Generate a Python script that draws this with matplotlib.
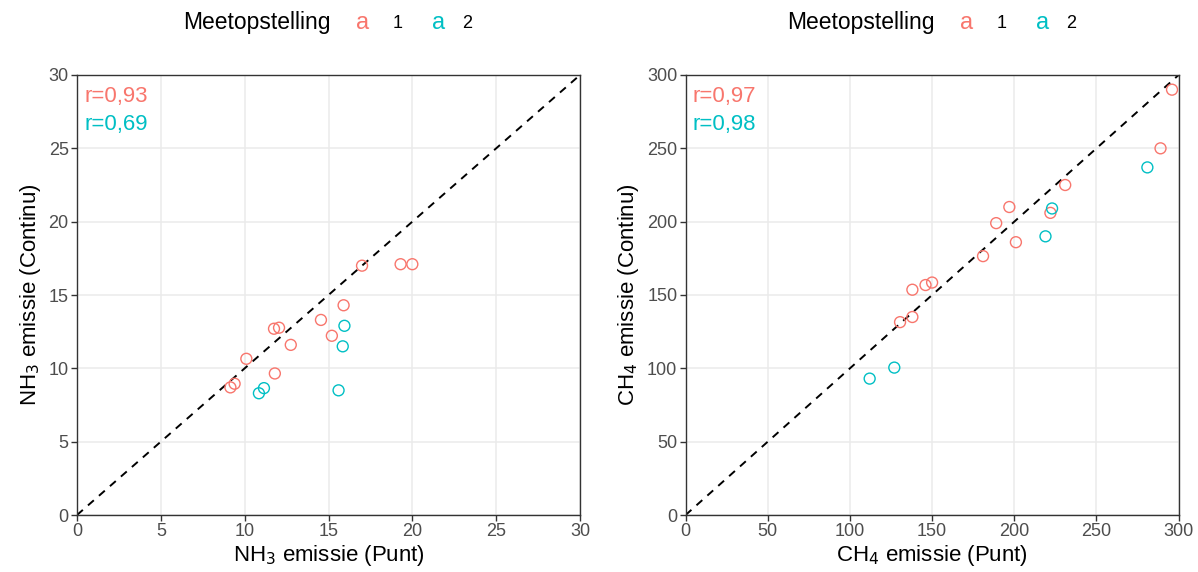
import matplotlib.pyplot as plt
import numpy as np

plt.rcParams['font.family'] = ['Liberation Sans', 'DejaVu Sans']

RED = '#F8766D'
CYAN = '#00BFC4'

# NH3 data (Punt, Continu)
nh3_punt_1 = [17.0, 19.3, 20.0, 15.9, 14.55, 11.75, 12.05, 15.2, 12.75, 10.1, 11.8, 9.4, 9.15]
nh3_cont_1 = [17.0, 17.1, 17.1, 14.3, 13.3, 12.7, 12.77, 12.22, 11.6, 10.65, 9.65, 8.95, 8.7]
nh3_punt_2 = [15.95, 15.85, 15.6, 11.15, 10.85]
nh3_cont_2 = [12.9, 11.5, 8.5, 8.65, 8.3]

# CH4 data (Punt, Continu)
ch4_punt_1 = [296, 289, 231, 197, 222, 189, 201, 181, 150, 146, 138, 138, 130.5]
ch4_cont_1 = [290, 250, 225, 210, 206, 199, 186, 176.5, 158.5, 156.8, 153.6, 135, 131.5]
ch4_punt_2 = [281, 223, 219, 127, 112]
ch4_cont_2 = [237, 209, 190, 100.5, 93]

r_nh3 = ['r=0,93', 'r=0,69']
r_ch4 = ['r=0,97', 'r=0,98']
groups = ['1', '2']

fig = plt.figure(figsize=(11.98, 5.72), dpi=100)
fig.patch.set_facecolor('white')

ax1 = fig.add_axes([77 / 1198, 57 / 572, 503 / 1198, 440 / 572])
ax2 = fig.add_axes([685.6 / 1198, 57 / 572, 493 / 1198, 440 / 572])


def style(ax, lim, ticks, xlabel, ylabel):
    ax.set_xlim(0, lim)
    ax.set_ylim(0, lim)
    ax.set_xticks(ticks)
    ax.set_yticks(ticks)
    ax.grid(True, color='#EBEBEB', linewidth=1.1)
    ax.set_axisbelow(True)
    for s in ax.spines.values():
        s.set_color('#333333')
        s.set_linewidth(1.0)
    ax.tick_params(colors='#333333', labelcolor='#4D4D4D', labelsize=13,
                   length=4, width=1, direction='out', pad=2)
    ax.set_xlabel(xlabel, fontsize=16, labelpad=2)
    ax.set_ylabel(ylabel, fontsize=16, labelpad=4)


style(ax1, 30, [0, 5, 10, 15, 20, 25, 30],
      r'NH$_3$ emissie (Punt)', r'NH$_3$ emissie (Continu)')
style(ax2, 300, [0, 50, 100, 150, 200, 250, 300],
      r'CH$_4$ emissie (Punt)', r'CH$_4$ emissie (Continu)')

for ax, lim, px, py, rt in [
    (ax1, 30, [nh3_punt_1, nh3_punt_2], [nh3_cont_1, nh3_cont_2], r_nh3),
    (ax2, 300, [ch4_punt_1, ch4_punt_2], [ch4_cont_1, ch4_cont_2], r_ch4),
]:
    ax.plot([0, lim], [0, lim], color='black', linestyle=(0, (4, 3.5)), linewidth=1.4, zorder=2)
    for xs, ys, c in zip(px, py, [RED, CYAN]):
        ax.scatter(xs, ys, s=62, facecolors='none', edgecolors=c, linewidths=1.0, zorder=3,
                   clip_on=False)
    ax.text(0.015, 0.975, rt[0], transform=ax.transAxes, color=RED, fontsize=16,
            ha='left', va='top')
    ax.text(0.015, 0.912, rt[1], transform=ax.transAxes, color=CYAN, fontsize=16,
            ha='left', va='top')

# Legends above each panel
for x0 in [183, 787]:
    y = 1 - 23 / 572
    fig.text(x0 / 1198, y, 'Meetopstelling', fontsize=16.5, ha='left', va='center')
    fig.text((x0 + 180) / 1198, y, 'a', color=RED, fontsize=17, ha='center', va='center')
    fig.text((x0 + 215) / 1198, y, groups[0], fontsize=13, ha='center', va='center')
    fig.text((x0 + 256) / 1198, y, 'a', color=CYAN, fontsize=17, ha='center', va='center')
    fig.text((x0 + 284) / 1198, y, groups[1], fontsize=13, ha='center', va='center')

plt.savefig('out.png', dpi=100, facecolor='white')
plt.close()
